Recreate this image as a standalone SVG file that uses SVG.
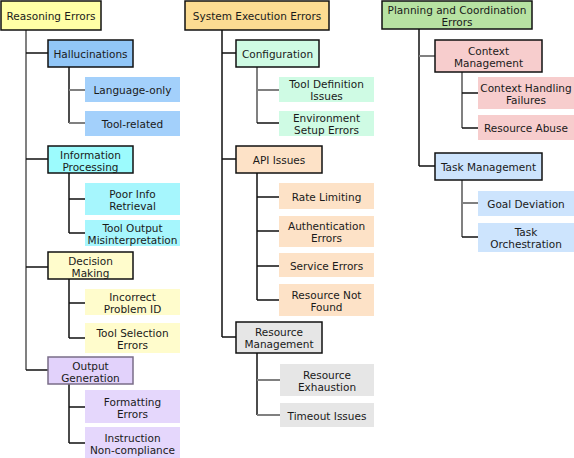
<svg xmlns="http://www.w3.org/2000/svg" width="574" height="458" viewBox="0 0 574 458">
<style>
text{font-family:"DejaVu Sans","Verdana",sans-serif;font-size:10.5px;fill:#1a1a1a;text-anchor:middle}
.b{stroke:#111;stroke-width:1.5;fill:none}
.g{stroke:#808080;stroke-width:2;fill:none}
.nb{stroke:#111;stroke-width:1.5}
.leaf{stroke:none}
</style>
<rect width="574" height="458" fill="#fff"/>
<g id="connectors">
<!-- Reasoning -->
<path class="g" d="M26 30V370"/>
<path class="b" d="M26 53H48M26 159H48M26 267H48M26 370H48"/>
<path class="b" d="M69 67V123"/>
<path class="g" d="M69 90H85M69 123H85"/>
<path class="b" d="M69 173V233M69 199H85M69 233H85"/>
<path class="b" d="M69 279V338M69 303H85M69 338H85"/>
<path class="b" d="M69 384V443M69 407H85M69 443H85"/>
<!-- System -->
<path class="b" d="M222 30V337M222 53H236M222 159H236M222 337H236"/>
<path class="g" d="M257 67V123M257 90H279"/>
<path class="b" d="M257 123H279"/>
<path class="b" d="M257 173V300M257 197H279M257 231H279M257 266H279M257 300H279"/>
<path class="b" d="M257 353V415"/>
<path class="g" d="M257 380H280M257 415H280"/>
<!-- Planning -->
<path class="b" d="M419 29V166M419 166H435"/>
<path class="g" d="M419 56H435"/>
<path class="g" d="M462 72V128"/>
<path class="b" d="M462 93H478M462 128H478"/>
<path class="g" d="M462 180V237M462 203H478"/>
<path class="b" d="M462 237H478"/>
</g>

<g id="reasoning-errors"><rect class="nb" x="1" y="1" width="100" height="29" fill="#ffffa6"/><text x="51" y="20">Reasoning Errors</text></g>
<g id="hallucinations"><rect class="nb" x="48" y="40" width="85" height="27" fill="#91c6f7"/><text x="90.5" y="58">Hallucinations</text></g>
<g id="language-only"><rect class="leaf" x="85" y="77" width="95" height="25" fill="#a3d0fb"/><text x="132.5" y="94">Language-only</text></g>
<g id="tool-related"><rect class="leaf" x="85" y="111" width="95" height="25" fill="#a3d0fb"/><text x="132.5" y="128">Tool-related</text></g>
<g id="information-processing"><rect class="nb" x="48" y="146" width="85" height="27" fill="#9cfbfd"/><text x="90.5" y="159">Information</text><text x="90.5" y="171">Processing</text></g>
<g id="poor-info-retrieval"><rect class="leaf" x="85" y="183" width="95" height="32" fill="#a6f6fd"/><text x="132.5" y="198">Poor Info</text><text x="132.5" y="210">Retrieval</text></g>
<g id="tool-output-misinterpretation"><rect class="leaf" x="85" y="220" width="95" height="26" fill="#a6f6fd"/><text x="132.5" y="232">Tool Output</text><text x="132.5" y="244">Misinterpretation</text></g>
<g id="decision-making"><rect class="nb" x="48" y="252" width="85" height="27" fill="#fffccc"/><text x="90.5" y="265">Decision</text><text x="90.5" y="277">Making</text></g>
<g id="incorrect-problem-id"><rect class="leaf" x="85" y="289" width="95" height="26" fill="#fffccc"/><text x="132.5" y="301">Incorrect</text><text x="132.5" y="313">Problem ID</text></g>
<g id="tool-selection-errors"><rect class="leaf" x="85" y="323" width="95" height="30" fill="#fffccc"/><text x="132.5" y="337">Tool Selection</text><text x="132.5" y="349">Errors</text></g>
<g id="output-generation"><rect x="48" y="357" width="85" height="27" fill="#e2d2fb" stroke="#7a6d88" stroke-width="1.5"/><text x="90.5" y="370">Output</text><text x="90.5" y="382">Generation</text></g>
<g id="formatting-errors"><rect class="leaf" x="85" y="390" width="95" height="33" fill="#e5d7fc"/><text x="132.5" y="406">Formatting</text><text x="132.5" y="418">Errors</text></g>
<g id="instruction-non-compliance"><rect class="leaf" x="85" y="427" width="95" height="31" fill="#e5d7fc"/><text x="132.5" y="442">Instruction</text><text x="132.5" y="454">Non-compliance</text></g>

<g id="system-execution-errors"><rect class="nb" x="185" y="1" width="144" height="29" fill="#fcdc92"/><text x="257" y="20">System Execution Errors</text></g>
<g id="configuration"><rect class="nb" x="236" y="40" width="83" height="27" fill="#cffbe4"/><text x="277.5" y="58">Configuration</text></g>
<g id="tool-definition-issues"><rect class="leaf" x="279" y="77" width="95" height="25" fill="#cffbe4"/><text x="326.5" y="88">Tool Definition</text><text x="326.5" y="100">Issues</text></g>
<g id="environment-setup-errors"><rect class="leaf" x="279" y="111" width="95" height="25" fill="#cffbe4"/><text x="326.5" y="122">Environment</text><text x="326.5" y="134">Setup Errors</text></g>
<g id="api-issues"><rect class="nb" x="236" y="146" width="86" height="27" fill="#fde2c7"/><text x="279" y="164">API Issues</text></g>
<g id="rate-limiting"><rect class="leaf" x="279" y="183" width="95" height="26" fill="#fde2c7"/><text x="326.5" y="200.5">Rate Limiting</text></g>
<g id="authentication-errors"><rect class="leaf" x="279" y="216" width="95" height="31" fill="#fde2c7"/><text x="326.5" y="230">Authentication</text><text x="326.5" y="242">Errors</text></g>
<g id="service-errors"><rect class="leaf" x="279" y="253" width="95" height="24" fill="#fde2c7"/><text x="326.5" y="269.5">Service Errors</text></g>
<g id="resource-not-found"><rect class="leaf" x="279" y="284" width="95" height="32" fill="#fde2c7"/><text x="326.5" y="299">Resource Not</text><text x="326.5" y="311">Found</text></g>
<g id="resource-management"><rect class="nb" x="236" y="322" width="86" height="31" fill="#e6e6e6"/><text x="279" y="336">Resource</text><text x="279" y="348">Management</text></g>
<g id="resource-exhaustion"><rect class="leaf" x="280" y="364" width="94" height="32" fill="#e6e6e6"/><text x="327" y="379">Resource</text><text x="327" y="391">Exhaustion</text></g>
<g id="timeout-issues"><rect class="leaf" x="280" y="403" width="94" height="24" fill="#e6e6e6"/><text x="327" y="419.5">Timeout Issues</text></g>

<g id="planning-coordination-errors"><rect class="nb" x="382" y="1" width="150" height="28" fill="#b7e2a2"/><text x="457" y="14">Planning and Coordination</text><text x="457" y="26">Errors</text></g>
<g id="context-management"><rect class="nb" x="435" y="40" width="107" height="32" fill="#f7cdcd"/><text x="488.5" y="55">Context</text><text x="488.5" y="67">Management</text></g>
<g id="context-handling-failures"><rect class="leaf" x="478" y="77" width="96" height="32" fill="#f7cdcd"/><text x="526" y="92">Context Handling</text><text x="526" y="104">Failures</text></g>
<g id="resource-abuse"><rect class="leaf" x="478" y="115" width="96" height="25" fill="#f7cdcd"/><text x="526" y="132">Resource Abuse</text></g>
<g id="task-management"><rect class="nb" x="435" y="153" width="107" height="27" fill="#cde4fd"/><text x="488.5" y="171">Task Management</text></g>
<g id="goal-deviation"><rect class="leaf" x="478" y="191" width="96" height="25" fill="#cde4fd"/><text x="526" y="208">Goal Deviation</text></g>
<g id="task-orchestration"><rect class="leaf" x="478" y="223" width="96" height="29" fill="#cde4fd"/><text x="526" y="236">Task</text><text x="526" y="248">Orchestration</text></g>
</svg>
